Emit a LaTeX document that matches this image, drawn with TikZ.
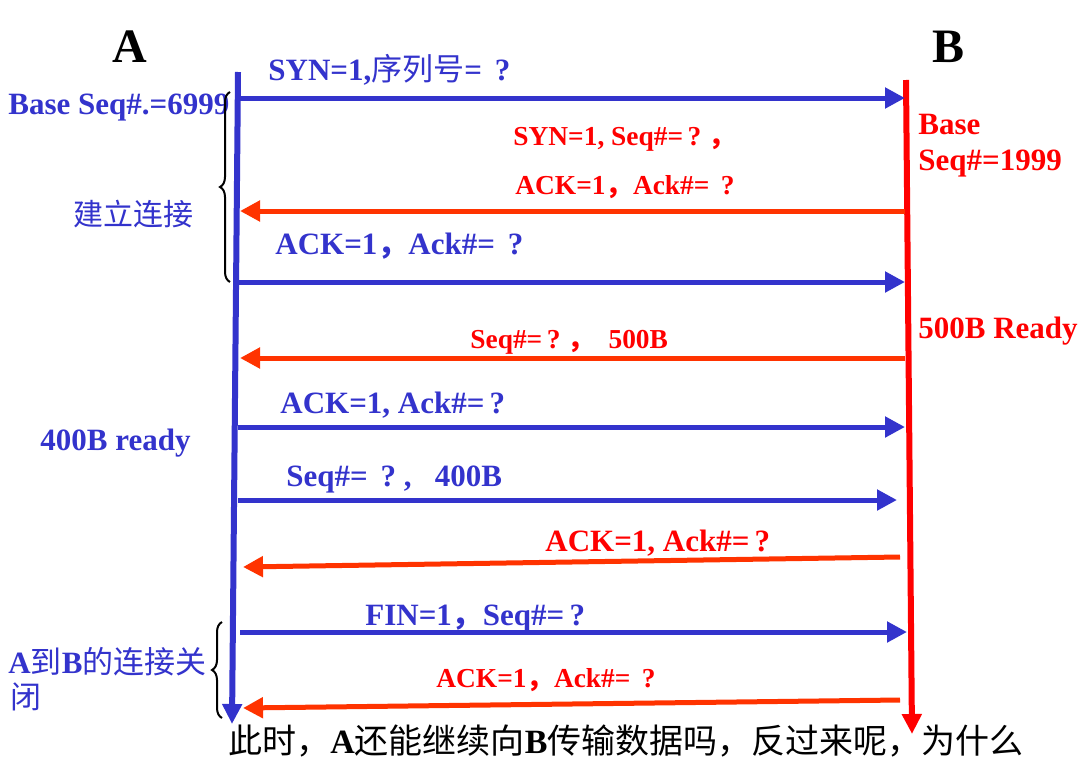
\documentclass[tikz,border=0pt]{standalone}
\usepackage{fontspec}
\setmainfont{Liberation Serif}
\newfontfamily\cjk{Noto Sans CJK SC}
\usetikzlibrary{arrows.meta,positioning,decorations.pathreplacing}
\definecolor{ablue}{RGB}{51,51,204}
\definecolor{bred}{RGB}{255,0,0}
\definecolor{ored}{RGB}{255,51,0}

\begin{document}
\begin{tikzpicture}[
  x=0.5pt, y=-0.5pt,
  life/.style={line width=3pt, -{Triangle[length=10pt,width=9.5pt]}},
  msgab/.style={ablue, line width=2.5pt, -{Triangle[length=10pt,width=10pt]}},
  msgba/.style={ored, line width=2.5pt, -{Triangle[length=10pt,width=10pt]}},
  bluetxt/.style={text=ablue, font=\fontsize{15.5}{18}\selectfont\bfseries, anchor=base west, inner sep=0pt},
  redtxt/.style={text=bred, font=\fontsize{13.7}{16}\selectfont\bfseries, anchor=base west, inner sep=0pt},
  host/.style={font=\fontsize{24}{28}\selectfont\bfseries, inner sep=0pt},
  brc/.style={decorate, decoration={brace, amplitude=5pt}, line width=1pt}
]
  \useasboundingbox (0,0) rectangle (1086,760);
  % Hosts and lifelines
  \node[host] (hostA) at (130,47) {A};
  \node[host] (hostB) at (948,47) {B};
  \coordinate (atop) at (238,72);
  \coordinate (abot) at (232,724);
  \coordinate (btop) at (906,80);
  \coordinate (bbot) at (912,734);
  \draw[life, ablue] (atop) -- (abot);
  \draw[life, bred] (btop) -- (bbot);
  % State notes
  \node[bluetxt] (aseq) at (8,114) {Base Seq\#.=6999};
  \node[redtxt, font=\fontsize{15.5}{18}\selectfont\bfseries] (bseq1) at (918,134) {Base};
  \node[redtxt, font=\fontsize{15.5}{18}\selectfont\bfseries] (bseq2) at (918,170) {Seq\#=1999};
  \node[redtxt, font=\fontsize{15.5}{18}\selectfont\bfseries] (bready) at (918,338) {500B Ready};
  \node[bluetxt] (aready) at (40,450) {400B ready};
  % Handshake
  \coordinate (a1) at (240,98);   \coordinate (b1) at (905,98);
  \draw[msgab] (a1) -- (b1);
  \node[bluetxt] (syn) at (268,80) {SYN=1,{\cjk\mdseries 序列号}=\ \,?};
  \coordinate (a2) at (240,211);  \coordinate (b2) at (905,211);
  \draw[msgba] (b2) -- (a2);
  \node[redtxt] (synack1) at (513,145) {SYN=1, Seq\#=\,?\ {\cjk ，}};
  \node[redtxt] (synack2) at (515,194) {ACK=1{\cjk ，}Ack\#=\ \,?};
  \coordinate (a3) at (238,282);  \coordinate (b3) at (905,282);
  \draw[msgab] (a3) -- (b3);
  \node[bluetxt] (ack) at (275,254) {ACK=1{\cjk ，}Ack\#=\ \,?};
  % Data
  \coordinate (a4) at (240,358);  \coordinate (b4) at (905,358);
  \draw[msgba] (b4) -- (a4);
  \node[redtxt] (data1) at (470,348) {Seq\#=\,?\ {\cjk ，}\ \ 500B};
  \coordinate (a5) at (238,427);  \coordinate (b5) at (905,427);
  \draw[msgab] (a5) -- (b5);
  \node[bluetxt] (ack1) at (280,413) {ACK=1, Ack\#=\,?};
  \coordinate (a6) at (238,500);  \coordinate (b6) at (897,500);
  \draw[msgab] (a6) -- (b6);
  \node[bluetxt] (data2) at (286,486) {Seq\#=\ \,?\ ,\ \ \ 400B};
  \coordinate (a7) at (243,567);  \coordinate (b7) at (900,557);
  \draw[msgba] (b7) -- (a7);
  \node[redtxt, font=\fontsize{15.5}{18}\selectfont\bfseries] (ack2) at (545,551) {ACK=1, Ack\#=\,?};
  % Close
  \coordinate (a8) at (240,632);  \coordinate (b8) at (907,632);
  \draw[msgab] (a8) -- (b8);
  \node[bluetxt] (fin) at (365,625) {FIN=1{\cjk ，}Seq\#=\,?};
  \coordinate (a9) at (243,708);  \coordinate (b9) at (900,700);
  \draw[msgba] (b9) -- (a9);
  \node[redtxt] (finack) at (436,687) {ACK=1{\cjk ，}Ack\#=\ \,?};
  % Braces
  \coordinate (br1s) at (230,282); \coordinate (br1e) at (230,92);
  \draw[brc] (br1s) -- (br1e);
  \node[text=ablue, font=\fontsize{15}{18}\selectfont\cjk, inner sep=0pt] (setup) at (133,214) {建立连接};
  \coordinate (br2s) at (222,718); \coordinate (br2e) at (222,622);
  \draw[brc] (br2s) -- (br2e);
  \node[bluetxt, font=\fontsize{15.5}{18}\selectfont\bfseries] (close1) at (8,673) {A{\cjk\mdseries 到}B{\cjk\mdseries 的连接关}};
  \node[bluetxt, font=\fontsize{15.5}{18}\selectfont\cjk] (close2) at (10,708) {闭};
  % Question
  \node[anchor=base west, inner sep=0pt, font=\fontsize{17}{20}\selectfont] (quest) at (228,753)
    {{\cjk 此时，}\textbf{A}{\cjk 还能继续向}\textbf{B}{\cjk 传输数据吗，反过来呢，为什么}};
\end{tikzpicture}
\end{document}
